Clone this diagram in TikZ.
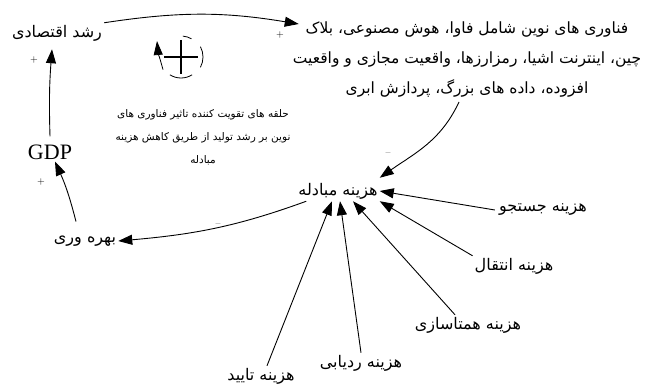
\documentclass[tikz,border=0pt]{standalone}
\usepackage{fontspec}
\usetikzlibrary{arrows.meta}
\TeXXeTstate=1
\newfontfamily\fa[Script=Arabic]{DejaVu Sans}
\newfontfamily\gdpfont{Liberation Serif}
\begin{document}
\begin{tikzpicture}[x=1pt,y=1pt,
  lab/.style={font=\fa\fontsize{16}{18}\selectfont, inner sep=2pt},
  big/.style={font=\fa\fontsize{15.5}{30}\selectfont, align=center, inner sep=2pt},
  captext/.style={font=\fa\fontsize{10.5}{23}\selectfont, align=center, inner sep=1pt},
  arr/.style={-{Triangle[length=14pt,width=10pt]}, line width=0.9pt},
  sign/.style={font=\fontsize{10}{11}\selectfont, inner sep=0pt},
  loopline/.style={line width=0.8pt}]
\useasboundingbox (0,0) rectangle (654,-385);

\node[lab] (growth) at (57,-33) {\beginR رشد اقتصادی\endR};
\node[big] (tech) at (467,-60) {\beginR فناوری های نوین شامل فاوا، هوش مصنوعی، بلاک\endR\\\beginR چین، اینترنت اشیا، رمزارزها، واقعیت مجازی و واقعیت\endR\\\beginR افزوده، داده های بزرگ، پردازش ابری\endR};
\node[captext] (caption) at (203,-137) {\beginR حلقه های تقویت کننده تاثیر فناوری های\endR\\\beginR نوین بر رشد تولید از طریق کاهش هزینه\endR\\\beginR مبادله\endR};
\node[font=\gdpfont\fontsize{22}{24}\selectfont, inner sep=2pt] (gdp) at (50,-152) {GDP};
\node[lab] (prod) at (85,-241) {\beginR بهره وری\endR};
\node[lab] (cost) at (338,-191) {\beginR هزینه مبادله\endR};
\node[lab] (search) at (543,-210) {\beginR هزینه جستجو\endR};
\node[lab] (transfer) at (514,-266) {\beginR هزینه انتقال\endR};
\node[lab] (replic) at (468,-325) {\beginR هزینه همتاسازی\endR};
\node[lab] (track) at (361,-363) {\beginR هزینه ردیابی\endR};
\node[lab] (verify) at (261,-376) {\beginR هزینه تایید\endR};

% loop symbol
\coordinate (lc) at (181,-57);
\draw[line width=1.5pt] (164,-57) -- (198,-57);
\draw[line width=1.5pt] (181,-40) -- (181,-74);
\draw[loopline] ([shift={(60:21)}]lc) arc (60:85:21);
\draw[loopline] ([shift={(-28:22)}]lc) arc (-28:28:22);
\draw[loopline] ([shift={(-58:21)}]lc) arc (-58:-122:21);
\draw[loopline,-{Triangle[length=14pt,width=9pt]}] ([shift={(215:22)}]lc) to[out=105,in=-85] (157,-41);

% connectors
\draw[arr] (growth.north east) to[bend left=9] ([shift={(8,-4)}]tech.north west);
\draw[arr] ([shift={(-8,-2)}]tech.south) to[out=245,in=35] ([shift={(0,3)}]cost.north east);
\draw[arr] ([xshift=10]cost.south west) to[out=200,in=5] (prod.east);
\draw[arr] ([shift={(-9,12)}]prod.north) to[bend right=5] ([xshift=5]gdp.south);
\draw[arr] ([yshift=6]gdp.north) to[bend left=3] ([shift={(-5,-6)}]growth.south);
\draw[arr] ([xshift=-2]search.west) -- (cost.east);
\draw[arr] (transfer.north west) -- (cost.south east);
\draw[arr] ([xshift=-13]replic.north) -- ([xshift=15]cost.south);
\draw[arr] (track.north) -- ([xshift=2]cost.south);
\draw[arr] ([xshift=6]verify.north) -- ([xshift=-6]cost.south);

% polarity signs
\node[sign] (s1) at (280,-35) {+};
\node[sign] (s2) at (34,-60) {+};
\node[sign] (s3) at (41,-182) {+};
\node[sign] (s4) at (218,-225) {\textendash};
\node[sign] (s5) at (388,-154) {\textendash};
\end{tikzpicture}
\end{document}
